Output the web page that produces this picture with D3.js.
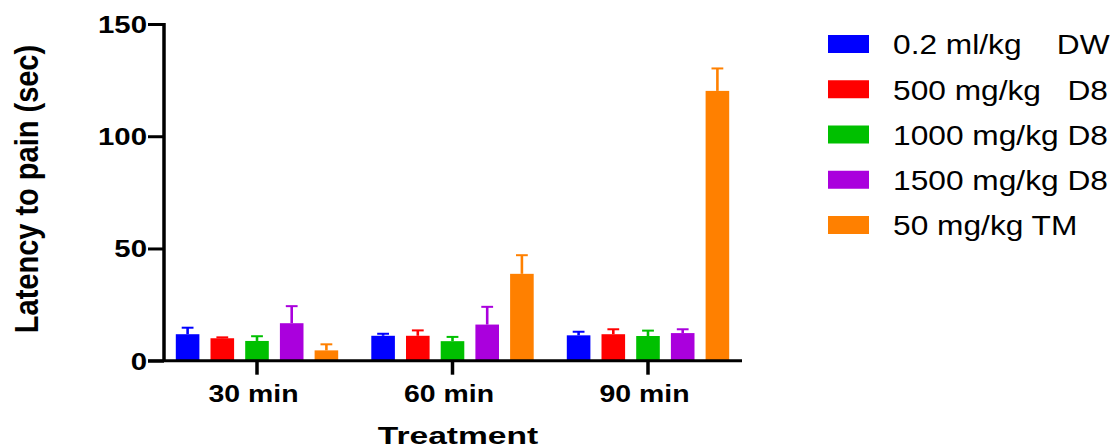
<!DOCTYPE html>
<html>
<head>
<meta charset="utf-8">
<script src="https://cdn.jsdelivr.net/npm/d3@7"></script>
<style>
  body { margin: 0; background: #fff; }
  svg { display: block; }
  text { font-family: "Liberation Sans", Arial, sans-serif; fill: #000; }
</style>
</head>
<body>
<svg id="chart" width="1119" height="448"></svg>
<script>
// ---- data ----
const categories = ["30 min", "60 min", "90 min"];
const seriesNames = ["0.2 ml/kg    DW", "500 mg/kg   D8", "1000 mg/kg D8", "1500 mg/kg D8", "50 mg/kg TM"];
const seriesColors = ["#0000ff", "#ff0000", "#00c000", "#aa00dd", "#ff8000"];
// mean values per series, ordered as categories
const dwMeans   = [11.8, 11.1, 11.3];
const d500Means = [10.0, 11.1, 11.8];
const d1000Means= [8.8, 8.7, 11.0];
const d1500Means= [16.7, 16.1, 12.3];
const tmMeans   = [4.6, 38.7, 120.2];
// error (SEM) per series
const dwErr    = [2.9, 0.9, 1.6];
const d500Err  = [0.4, 2.4, 2.2];
const d1000Err = [2.1, 1.9, 2.4];
const d1500Err = [7.6, 7.9, 1.7];
const tmErr    = [2.7, 8.3, 10.0];
const yTicks = [0, 50, 100, 150];
const yTitle = "Latency to pain (sec)";
const xTitle = "Treatment";

const means = [dwMeans, d500Means, d1000Means, d1500Means, tmMeans];
const errs = [dwErr, d500Err, d1000Err, d1500Err, tmErr];

const svg = d3.select("#chart");

const y = d3.scaleLinear().domain([0, 150]).range([360.7, 24]);
const x0 = d3.scaleBand().domain(categories).range([159.25, 745.75]).padding(0);
const x1 = d3.scaleBand().domain(d3.range(seriesNames.length))
  .range([-86.75, 86.75]).paddingInner(0.32).paddingOuter(0.16);

const axisX0 = 164, axisX1 = 742;

// bars
const g = svg.append("g");
seriesNames.forEach((name, si) => {
  categories.forEach((c, ci) => {
    const cx = x0(c) + x0.bandwidth() / 2 + x1(si);
    const v = means[si][ci], e = errs[si][ci];
    const bw = x1.bandwidth();
    // error bar (drawn first so the bar covers the stem bottom)
    const capW = bw * 0.5;
    g.append("line")
      .attr("x1", cx + bw / 2).attr("x2", cx + bw / 2)
      .attr("y1", y(v)).attr("y2", y(v + e))
      .attr("stroke", seriesColors[si]).attr("stroke-width", 2.6);
    g.append("line")
      .attr("x1", cx + bw / 2 - capW / 2).attr("x2", cx + bw / 2 + capW / 2)
      .attr("y1", y(v + e)).attr("y2", y(v + e))
      .attr("stroke", seriesColors[si]).attr("stroke-width", 2);
    g.append("rect")
      .attr("x", cx).attr("width", bw)
      .attr("y", y(v)).attr("height", y(0) - y(v))
      .attr("fill", seriesColors[si]);
  });
});

// y axis
const yAxis = svg.append("g").attr("transform", `translate(${axisX0},0)`)
  .call(d3.axisLeft(y).tickValues(yTicks).tickSize(16).tickSizeOuter(0).tickPadding(2));
yAxis.select(".domain").attr("stroke", "#000").attr("stroke-width", 3.5)
  .attr("d", `M0,${y(0)}V${y(150) - 1}`);
yAxis.selectAll(".tick line").attr("stroke", "#000").attr("stroke-width", 3);
yAxis.selectAll(".tick text")
  .style("font-family", '"Liberation Sans", Arial, sans-serif')
  .style("font-weight", "bold").style("font-size", "23.5px")
  .attr("x", null).attr("dy", null)
  .attr("text-anchor", "end")
  .attr("transform", "translate(-17,8.3) scale(1.25,1)");

// x axis
const xAxis = svg.append("g").attr("transform", `translate(0,${y(0)})`)
  .call(d3.axisBottom(x0).tickSize(14).tickSizeOuter(0).tickPadding(4));
xAxis.select(".domain").attr("stroke", "#000").attr("stroke-width", 3)
  .attr("d", `M${axisX0 - 16},0H${axisX1}`);
xAxis.selectAll(".tick line").attr("stroke", "#000").attr("stroke-width", 3.5);
xAxis.selectAll(".tick text")
  .style("font-family", '"Liberation Sans", Arial, sans-serif')
  .style("font-weight", "bold").style("font-size", "23.3px")
  .attr("y", null).attr("dy", null)
  .attr("text-anchor", "middle")
  .attr("transform", "translate(-3.5,41) scale(1.22,1)");

// axis titles
svg.append("text")
  .attr("transform", "translate(458,444.3) scale(1.36,1)")
  .attr("text-anchor", "middle")
  .style("font-weight", "bold").style("font-size", "24.7px")
  .text(xTitle);

svg.append("text")
  .attr("transform", "translate(38,189) rotate(-90) scale(1,1.14)")
  .attr("text-anchor", "middle")
  .style("font-weight", "bold").style("font-size", "29px")
  .text(yTitle);

// legend
const leg = svg.append("g");
seriesNames.forEach((name, i) => {
  const cy = 44 + i * 45.25;
  leg.append("rect").attr("x", 828).attr("y", cy - 9).attr("width", 41).attr("height", 18)
    .attr("fill", seriesColors[i]);
  leg.append("text")
    .attr("transform", `translate(893,${cy + 10.3}) scale(1.174,1)`)
    .style("font-size", "27px").style("white-space", "pre")
    .attr("xml:space", "preserve")
    .text(name);
});
</script>
</body>
</html>
